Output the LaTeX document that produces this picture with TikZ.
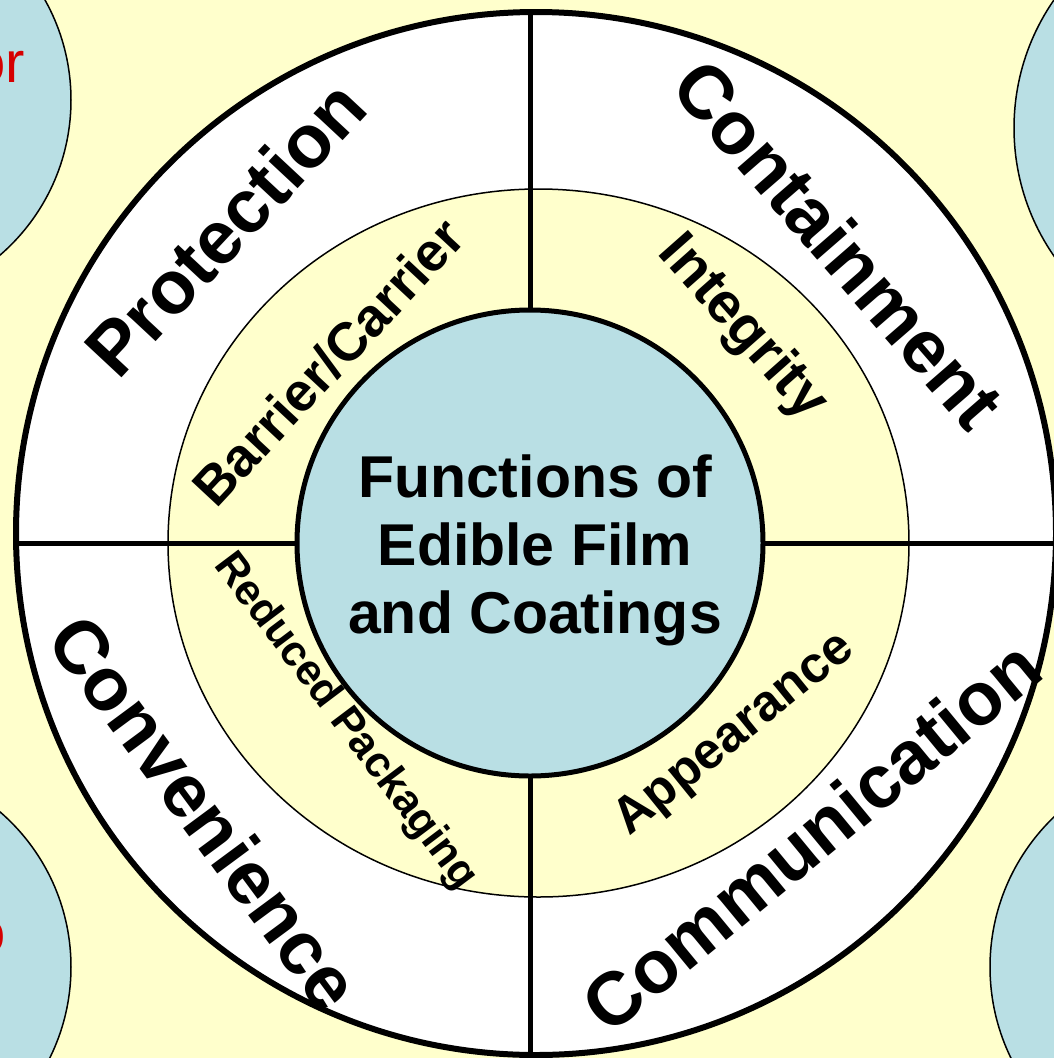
\documentclass[tikz,border=0pt]{standalone}
\usepackage{fontspec}
\setmainfont{Liberation Sans}
\usetikzlibrary{shapes.geometric}
\definecolor{paper}{RGB}{255,255,204}
\definecolor{hubblue}{RGB}{185,223,228}
\definecolor{note}{RGB}{214,0,0}
\begin{document}
\begin{tikzpicture}[x=1pt,y=-1pt,
  outerlabel/.style={font=\bfseries\fontsize{75}{86}\selectfont, inner sep=0},
  ringlabel/.style={font=\bfseries\fontsize{#1}{#1}\selectfont, inner sep=0},
  divider/.style={line width=5pt},
  side/.style={circle, draw, line width=1.5pt, fill=hubblue, inner sep=0, outer sep=0},
  notetext/.style={font=\fontsize{58}{68}\selectfont, text=note, inner sep=0, anchor=base east},
]
\useasboundingbox (0,0) rectangle (1054,1058);
\clip (0,0) rectangle (1054,1058);
\fill[paper] (0,0) rectangle (1054,1058);

% side bubbles in the corners
\node[side, minimum size=410pt] (tl) at (-134,100) {};
\node[side, minimum size=410pt] (bl) at (-134,967) {};
\node[side, minimum size=450pt] (tr) at (1239,128) {};
\node[side, minimum size=416pt] (br) at (1198,967) {};
\node[notetext] (tlnote) at (25,82) {or};
\node[notetext] (blnote) at (6,952) {o};

% outer ring, middle ring and hub
\node[ellipse, draw, line width=6pt, fill=white, minimum width=1040pt, minimum height=1043pt,
      inner sep=0, outer sep=0] (rim) at (536,533.5) {};
\node[ellipse, draw, line width=1.5pt, fill=paper, minimum width=741pt, minimum height=708pt,
      inner sep=0, outer sep=0] (mid) at (538.5,543) {};
\node[circle, draw, line width=5pt, fill=hubblue, minimum size=466pt,
      inner sep=0, outer sep=0] (hub) at (530,543) {};

% quadrant dividers
\draw[divider] (hub.north) -- (hub.north |- rim.north);
\draw[divider] (hub.south) -- (hub.south |- rim.south);
\draw[divider] (hub.west) -- (rim.west |- hub.west);
\draw[divider] (hub.east) -- (rim.east |- hub.east);

% centre title
\node[font=\bfseries\fontsize{59}{68}\selectfont, align=center, inner sep=0] (title)
  at (535,550) {Functions of\\Edible Film\\and Coatings};

% outer ring labels
\node[outerlabel, rotate=47] (protection) at (225,228) {Protection};
\node[outerlabel, rotate=-49] (containment) at (839,244) {Containment};
\node[outerlabel, rotate=-53.5] (convenience) at (205,812) {Convenience};
\node[outerlabel, rotate=39.5] (communication) at (811,836) {Communication};

% middle ring labels
\node[ringlabel=54, rotate=47] (barrier) at (328,362) {Barrier/Carrier};
\node[ringlabel=57, rotate=-48.5] (integrity) at (742,328) {Integrity};
\node[ringlabel=43, rotate=-53] (reduced) at (345,722) {Reduced Packaging};
\node[ringlabel=51, rotate=39] (appearance) at (735,735) {Appearance};
\end{tikzpicture}
\end{document}
